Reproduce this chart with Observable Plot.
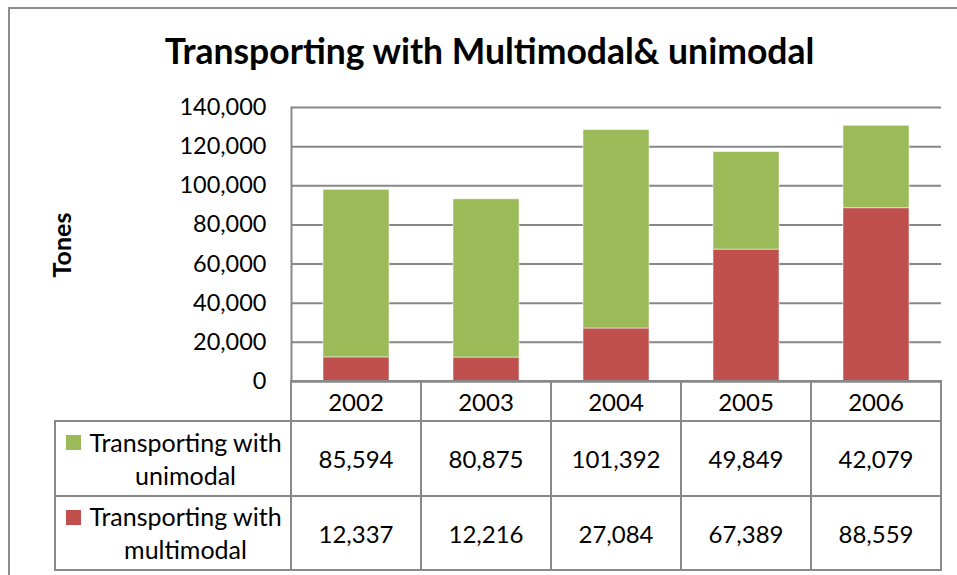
<!DOCTYPE html>
<html><head><meta charset="utf-8">
<script src="https://cdn.jsdelivr.net/npm/d3@7"></script>
<script src="https://cdn.jsdelivr.net/npm/@observablehq/plot@0.6"></script>
<style>
body{margin:0;background:#fff;overflow:hidden;}
#wrap{position:relative;width:957px;height:575px;overflow:hidden;font-family:Lato,sans-serif;color:#000;background:#fff;}
#frame{position:absolute;left:8px;top:7px;width:1000px;height:700px;border-left:2px solid #8c8c8c;border-top:2px solid #8c8c8c;}
#title{position:absolute;left:0;width:979px;top:31px;text-align:center;font-weight:bold;font-size:35.5px;white-space:nowrap;line-height:40px;}
#ylab{position:absolute;left:61px;top:245px;transform:translate(-50%,-50%) rotate(-90deg);font-weight:bold;font-size:25px;}
#chart{position:absolute;left:0;top:0;}
table{position:absolute;left:54px;top:380px;border-collapse:collapse;table-layout:fixed;font-size:24px;}
td{border:2px solid #898989;text-align:center;padding:0;vertical-align:middle;}
td.blank{border-top:none;border-left:none;}
td.lab{position:relative;padding-left:27px;padding-right:2px;line-height:33px;font-size:25px;}
td.lab span.sw{position:absolute;left:10px;top:13px;width:15px;height:15px;}
</style></head>
<body><div id="wrap"><div id="frame"></div><div id="chart"></div><div id="title"></div><div id="ylab"></div></div>
<script>
const title = "Transporting with Multimodal& unimodal";
const yLabel = "Tones";
const years = ["2002","2003","2004","2005","2006"];
const seriesNames = ["Transporting with unimodal","Transporting with multimodal"];
const unimodal = [85594,80875,101392,49849,42079];
const multimodal = [12337,12216,27084,67389,88559];
const colors = ["#9BBB59","#C0504D"];
const yTicks = [0,20000,40000,60000,80000,100000,120000,140000];

const fmt = d3.format(",");
const rows = [
  ...years.map((y,i)=>({year:y, series:seriesNames[1], value:multimodal[i]})),
  ...years.map((y,i)=>({year:y, series:seriesNames[0], value:unimodal[i]}))
];

const chart = Plot.plot({
  width:957, height:400, marginTop:107, marginBottom:19, marginLeft:291, marginRight:16,
  style:{fontFamily:"Lato", background:"transparent", color:"#000"},
  x:{domain:years, paddingInner:0.49, paddingOuter:0.245, axis:null},
  y:{domain:[0,140000], axis:null},
  color:{domain:seriesNames, range:colors},
  marks:[
    Plot.gridY(yTicks, {stroke:"#878787", strokeOpacity:1, strokeWidth:2}),
    Plot.barY(rows, {x:"year", y:"value", fill:"series", stroke:"#ffffff", strokeOpacity:0.5, strokeWidth:1}),
    Plot.axisY(yTicks, {tickSize:0, tickPadding:25, tickFormat:fmt, fontSize:23.5, label:null}),
    Plot.ruleY([0], {stroke:"#898989", strokeWidth:2}),
    Plot.frame({anchor:"left", stroke:"#898989", strokeWidth:2})
  ]
});
document.getElementById("chart").appendChild(chart);
document.getElementById("title").textContent = title;
document.getElementById("ylab").textContent = yLabel;

// data table
const table = d3.select("#wrap").append("table");
const cg = table.append("colgroup");
cg.append("col").style("width","236px");
years.forEach(()=>cg.append("col").style("width","130px"));
const hr = table.append("tr").style("height","40px");
hr.append("td").attr("class","blank");
years.forEach(y=>hr.append("td").text(y));
[[0,unimodal,"75px"],[1,multimodal,"74px"]].forEach(([k,vals,h])=>{
  const tr = table.append("tr").style("height",h);
  const lab = tr.append("td").attr("class","lab");
  lab.append("span").attr("class","sw").style("background",colors[k]);
  lab.append("span").text(seriesNames[k]);
  vals.forEach(v=>tr.append("td").text(fmt(v)));
});
</script></body></html>
